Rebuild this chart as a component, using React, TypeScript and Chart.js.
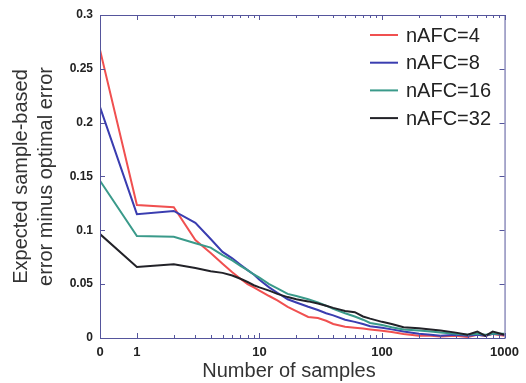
import React, { useEffect, useRef } from 'react';
import { Chart, registerables } from 'chart.js';

Chart.register(...registerables);

// ---- data ----
const sampleCounts = [0, 1, 2, 3, 4, 5, 6, 7, 8, 9, 10, 12, 14, 17, 20, 25, 30, 35, 40, 50, 60, 70, 80, 100, 120, 150, 200, 250, 300, 400, 500, 600, 700, 800, 1000];

const nafc4 = [0.2675, 0.1235, 0.1215, 0.091, 0.079, 0.069, 0.061, 0.055, 0.050, 0.047, 0.044, 0.039, 0.035, 0.029, 0.025, 0.0195, 0.0185, 0.016, 0.013, 0.0105, 0.0095, 0.0088, 0.008, 0.0068, 0.0055, 0.0038, 0.002, 0.0022, 0.0015, 0.002, 0.001, 0.003, 0.0018, 0.0038, 0.002];
const nafc8 = [0.2145, 0.115, 0.118, 0.107, 0.092, 0.080, 0.074, 0.068, 0.063, 0.059, 0.054, 0.047, 0.042, 0.036, 0.033, 0.029, 0.026, 0.023, 0.021, 0.017, 0.015, 0.013, 0.011, 0.0095, 0.008, 0.006, 0.004, 0.003, 0.0022, 0.003, 0.002, 0.003, 0.002, 0.004, 0.003];
const nafc16 = [0.146, 0.0947, 0.094, 0.088, 0.084, 0.077, 0.072, 0.067, 0.063, 0.059, 0.056, 0.050, 0.046, 0.041, 0.039, 0.036, 0.033, 0.030, 0.027, 0.023, 0.020, 0.017, 0.014, 0.012, 0.010, 0.008, 0.007, 0.006, 0.005, 0.004, 0.003, 0.004, 0.003, 0.004, 0.004];
const nafc32 = [0.0965, 0.066, 0.0685, 0.065, 0.062, 0.0605, 0.058, 0.055, 0.052, 0.049, 0.047, 0.044, 0.041, 0.038, 0.036, 0.034, 0.032, 0.030, 0.028, 0.025, 0.024, 0.020, 0.018, 0.015, 0.013, 0.010, 0.009, 0.008, 0.007, 0.005, 0.003, 0.006, 0.002, 0.006, 0.003];

const seriesLabels = ['nAFC=4', 'nAFC=8', 'nAFC=16', 'nAFC=32'];
const seriesColors = ['#f05050', '#3a3db0', '#3a9a8a', '#222228'];
const seriesValues = [nafc4, nafc8, nafc16, nafc32];

const xTickValues = [0, 1, 10, 100, 1000];
const xTickLabels = ['0', '1', '10', '100', '1000'];
const yMin = 0;
const yMax = 0.3;
const yStep = 0.05;

const xTitle = 'Number of samples';
const yTitleLines = ['Expected sample-based', 'error minus optimal error'];

// where "0 samples" sits on the log axis
const ZERO_POS = 0.5;
const toAxis = (n: number) => (n === 0 ? ZERO_POS : n);

const AXIS_COLOR = '#55559c';
const TEXT_COLOR = '#222222';
const FONT_FAMILY = '"Liberation Sans", Arial, Helvetica, sans-serif';

const decorPlugin = {
  id: 'decor',
  afterDraw(chart: any) {
    const { ctx, chartArea } = chart;
    const { left, right, top, bottom } = chartArea;
    const xs = chart.scales.x;
    const ys = chart.scales.y;
    ctx.save();
    // frame
    ctx.strokeStyle = AXIS_COLOR;
    ctx.lineWidth = 1;
    ctx.strokeRect(left + 0.5, top + 0.5, right - left, bottom - top);
    // y ticks (inward, both sides)
    ctx.beginPath();
    for (let v = yMin; v <= yMax + 1e-9; v += yStep) {
      const py = Math.round(ys.getPixelForValue(v)) + 0.5;
      ctx.moveTo(left, py); ctx.lineTo(left + 5, py);
      ctx.moveTo(right, py); ctx.lineTo(right - 5, py);
    }
    // x major ticks
    xTickValues.forEach((v) => {
      const px = Math.round(xs.getPixelForValue(toAxis(v))) + 0.5;
      ctx.moveTo(px, bottom); ctx.lineTo(px, bottom - 5);
      ctx.moveTo(px, top); ctx.lineTo(px, top + 5);
    });
    // x minor ticks
    [1, 10, 100].forEach((d) => {
      for (let k = 2; k <= 9; k++) {
        const px = Math.round(xs.getPixelForValue(k * d)) + 0.5;
        ctx.moveTo(px, bottom); ctx.lineTo(px, bottom - 3);
        ctx.moveTo(px, top); ctx.lineTo(px, top + 3);
      }
    });
    ctx.stroke();

    // legend
    ctx.font = `20px ${FONT_FAMILY}`;
    ctx.textBaseline = 'middle';
    ctx.textAlign = 'left';
    chart.data.datasets.forEach((ds: any, i: number) => {
      const y = 35 + i * 27.7;
      ctx.strokeStyle = ds.borderColor;
      ctx.lineWidth = 2;
      ctx.beginPath();
      ctx.moveTo(370, y); ctx.lineTo(398, y);
      ctx.stroke();
      ctx.fillStyle = TEXT_COLOR;
      ctx.fillText(ds.label, 406, y + 1);
    });

    // axis titles
    ctx.fillStyle = '#333333';
    ctx.font = `20px ${FONT_FAMILY}`;
    ctx.textAlign = 'center';
    ctx.textBaseline = 'middle';
    ctx.fillText(xTitle, 289, 371);
    const cy = (top + bottom) / 2;
    yTitleLines.forEach((line, i) => {
      ctx.save();
      ctx.translate(21 + i * 25, cy);
      ctx.rotate(-Math.PI / 2);
      ctx.fillText(line, 0, 0);
      ctx.restore();
    });
    ctx.restore();
  },
};

export default function App() {
  const canvasRef = useRef<HTMLCanvasElement | null>(null);

  useEffect(() => {
    document.body.style.margin = '0';
    const canvas = canvasRef.current;
    if (!canvas) return;
    const datasets = seriesValues.map((vals, i) => ({
      label: seriesLabels[i],
      data: sampleCounts.map((n, j) => ({ x: toAxis(n), y: vals[j] })),
      borderColor: seriesColors[i],
      backgroundColor: seriesColors[i],
      borderWidth: 2,
      pointRadius: 0,
      tension: 0,
      fill: false,
      order: seriesLabels.length - i,
    }));
    const chart = new Chart(canvas, {
      type: 'line',
      data: { datasets },
      options: {
        animation: false,
        responsive: false,
        maintainAspectRatio: false,
        layout: { padding: { top: 15, right: 17, left: 0, bottom: 0 } },
        plugins: { legend: { display: false }, tooltip: { enabled: false } },
        scales: {
          x: {
            type: 'logarithmic',
            min: ZERO_POS,
            max: 1000,
            grid: { display: false, drawTicks: false },
            border: { display: false },
            afterBuildTicks: (scale: any) => {
              scale.ticks = xTickValues.map((v) => ({ value: toAxis(v) }));
            },
            afterFit: (scale: any) => { scale.height = 45; },
            ticks: {
              autoSkip: false,
              maxRotation: 0,
              padding: 7,
              color: TEXT_COLOR,
              font: { family: FONT_FAMILY, size: 13, weight: 'bold' },
              callback: (value: any) => {
                const idx = xTickValues.findIndex((v) => toAxis(v) === value);
                return idx >= 0 ? xTickLabels[idx] : '';
              },
            },
          },
          y: {
            min: yMin,
            max: yMax,
            grid: { display: false, drawTicks: false },
            border: { display: false },
            afterFit: (scale: any) => { scale.width = 100; },
            ticks: {
              stepSize: yStep,
              padding: 7,
              color: TEXT_COLOR,
              font: { family: FONT_FAMILY, size: 12, weight: 'bold' },
              callback: (value: any) => String(Math.round(Number(value) * 100) / 100),
            },
          },
        },
      },
      plugins: [decorPlugin],
    });
    return () => chart.destroy();
  }, []);

  return (
    <div style={{ position: 'absolute', left: 0, top: 0, width: 526, height: 383, background: '#fff' }}>
      <canvas ref={canvasRef} width={526} height={383} style={{ width: 526, height: 383 }} />
    </div>
  );
}
